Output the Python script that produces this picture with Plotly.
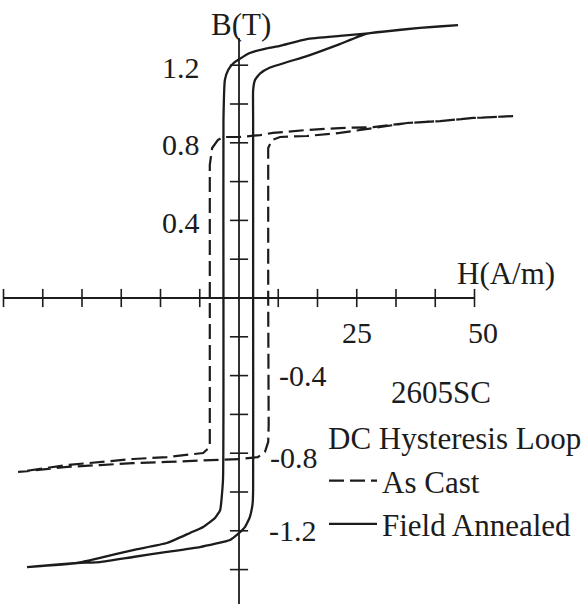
import plotly.graph_objects as go

# ---------------- data ----------------
# Field Annealed (solid): descending branch then ascending branch (closed loop)
fa_H = [46.5, 38.4, 26.3, 21.4, 14.4, 8.7, 5.9, 2.3, 0.1, -1.2, -2.3, -3.0, -3.3, -3.3, -3.4,
        -4.0, -5.1, -7.6, -10.4, -15.3, -22.5, -29.5, -34.4, -45.0,
        -34.4, -29.5, -22.5, -15.3, -8.3, -1.9, -0.2, 1.3, 2.3, 2.9, 3.0, 3.0, 3.0, 3.0,
        3.4, 4.5, 6.6, 14.4, 21.4, 27.0, 38.4, 46.5]
fa_B = [1.407, 1.392, 1.362, 1.351, 1.335, 1.300, 1.287, 1.263, 1.232, 1.210, 1.175, 1.124, 0.918, 0.0, -0.938,
        -1.093, -1.134, -1.180, -1.211, -1.263, -1.299, -1.340, -1.366, -1.387,
        -1.366, -1.361, -1.335, -1.309, -1.284, -1.247, -1.216, -1.180, -1.129, -1.057, -0.990, 0.0, 0.918, 1.072,
        1.124, 1.158, 1.188, 1.247, 1.309, 1.362, 1.392, 1.407]

# As Cast (dashed): descending branch then ascending branch (closed loop)
ac_H = [58.2, 49.7, 42.7, 35.7, 28.5, 21.4, 14.4, 7.2, 4.5, 0.2, -3.4, -4.5, -5.7, -6.2, -6.2, -6.2,
        -7.6, -15.3, -22.5, -29.5, -36.5, -46.9,
        -36.5, -29.5, -22.5, -15.3, -5.5, 0.2, 4.0, 5.5, 6.2, 6.3, 6.2, 6.2, 6.2,
        7.0, 8.7, 14.4, 21.4, 28.5, 35.7, 42.7, 49.7, 58.2]
ac_B = [0.938, 0.928, 0.912, 0.902, 0.881, 0.876, 0.866, 0.851, 0.840, 0.830, 0.830, 0.814, 0.773, 0.686, 0.0, -0.768,
        -0.799, -0.820, -0.830, -0.845, -0.861, -0.897,
        -0.871, -0.861, -0.851, -0.845, -0.835, -0.830, -0.820, -0.794, -0.742, -0.655, 0.0, 0.634, 0.773,
        0.814, 0.830, 0.835, 0.851, 0.876, 0.902, 0.912, 0.928, 0.938]

x_ticks = [k * 25 / 3 for k in range(-6, 7) if k != 0]
y_ticks = [round(-1.4 + 0.2 * k, 1) for k in range(14) if round(-1.4 + 0.2 * k, 1) != 0]
x_tick_labels = {25: "25", 50: "50"}
y_tick_labels_left = [1.2, 0.8, 0.4]
y_tick_labels_right = [-0.4, -0.8, -1.2]

x_axis_ends = [-50, 50]
y_axis_ends = [-1.7, 1.34]

INK = "#1c1c1c"
FONT = "Liberation Serif"

fig = go.Figure()

# axes drawn through the origin
fig.add_trace(go.Scatter(x=x_axis_ends, y=[0, 0], mode="lines", line=dict(color=INK, width=1.8),
                         hoverinfo="skip", showlegend=False))
fig.add_trace(go.Scatter(x=[0, 0], y=y_axis_ends, mode="lines", line=dict(color=INK, width=1.8),
                         hoverinfo="skip", showlegend=False))
fig.add_trace(go.Scatter(x=x_ticks, y=[0] * len(x_ticks), mode="markers",
                         marker=dict(symbol="line-ns", size=13, line=dict(color=INK, width=1.6)),
                         hoverinfo="skip", showlegend=False))
fig.add_trace(go.Scatter(x=[0] * len(y_ticks), y=y_ticks, mode="markers",
                         marker=dict(symbol="line-ew", size=13, line=dict(color=INK, width=1.6)),
                         hoverinfo="skip", showlegend=False))

# data curves
fig.add_trace(go.Scatter(x=ac_H, y=ac_B, mode="lines", name="As Cast",
                         line=dict(color=INK, width=2.2, dash="15px,6px")))
fig.add_trace(go.Scatter(x=fa_H, y=fa_B, mode="lines", name="Field Annealed",
                         line=dict(color=INK, width=2.3, shape="spline", smoothing=0.4)))

ann = []
for v in y_tick_labels_left:
    ann.append(dict(x=0, y=v, text=f"{v:.1f}", xanchor="right", yanchor="middle", xshift=-37, yshift=-2,
                    showarrow=False, font=dict(family=FONT, size=30, color=INK)))
rshift = {-0.4: 38, -0.8: 29, -1.2: 28}
ryshift = {-0.4: 0, -0.8: -4, -1.2: 0}
for v in y_tick_labels_right:
    ann.append(dict(x=0, y=v, text=f"{v:.1f}", xanchor="left", yanchor="middle", xshift=rshift[v],
                    yshift=ryshift[v], showarrow=False, font=dict(family=FONT, size=30, color=INK)))
for v, t in x_tick_labels.items():
    ann.append(dict(x=v, y=0, text=t, xanchor="center", yanchor="middle", yshift=-34,
                    xshift=0 if v == 25 else 8, showarrow=False, font=dict(family=FONT, size=30, color=INK)))
ann.append(dict(x=56.7, y=0.124, text="H(A/m)", xanchor="center", yanchor="middle", showarrow=False,
                font=dict(family=FONT, size=31, color=INK)))
ann.append(dict(x=0.4, y=1.412, text="B(T)", xanchor="center", yanchor="middle", showarrow=False,
                font=dict(family=FONT, size=31, color=INK)))
ann.append(dict(xref="paper", yref="paper", x=441 / 585, y=1 - 392 / 604, text="2605SC",
                xanchor="center", yanchor="middle", showarrow=False, font=dict(family=FONT, size=31, color=INK)))
ann.append(dict(xref="paper", yref="paper", x=454 / 585, y=1 - 438 / 604, text="DC Hysteresis Loop",
                xanchor="center", yanchor="middle", showarrow=False, font=dict(family=FONT, size=31, color=INK)))

fig.update_layout(
    width=585, height=604,
    margin=dict(l=0, r=0, t=0, b=0),
    paper_bgcolor="white", plot_bgcolor="white",
    xaxis=dict(range=[-239 / 4.71, (585 - 239) / 4.71], visible=False, fixedrange=True),
    yaxis=dict(range=[(298 - 604) / 194, 298 / 194], visible=False, fixedrange=True),
    annotations=ann,
    showlegend=True,
    legend=dict(x=324 / 585, y=1 - 454 / 604, xanchor="left", yanchor="top",
                bgcolor="rgba(0,0,0,0)", font=dict(family=FONT, size=31, color=INK),
                itemwidth=48, traceorder="normal"),
)

fig.write_html("out.html", config={"displayModeBar": False},
               post_script="document.body.style.margin='0';document.body.style.overflow='hidden';")
